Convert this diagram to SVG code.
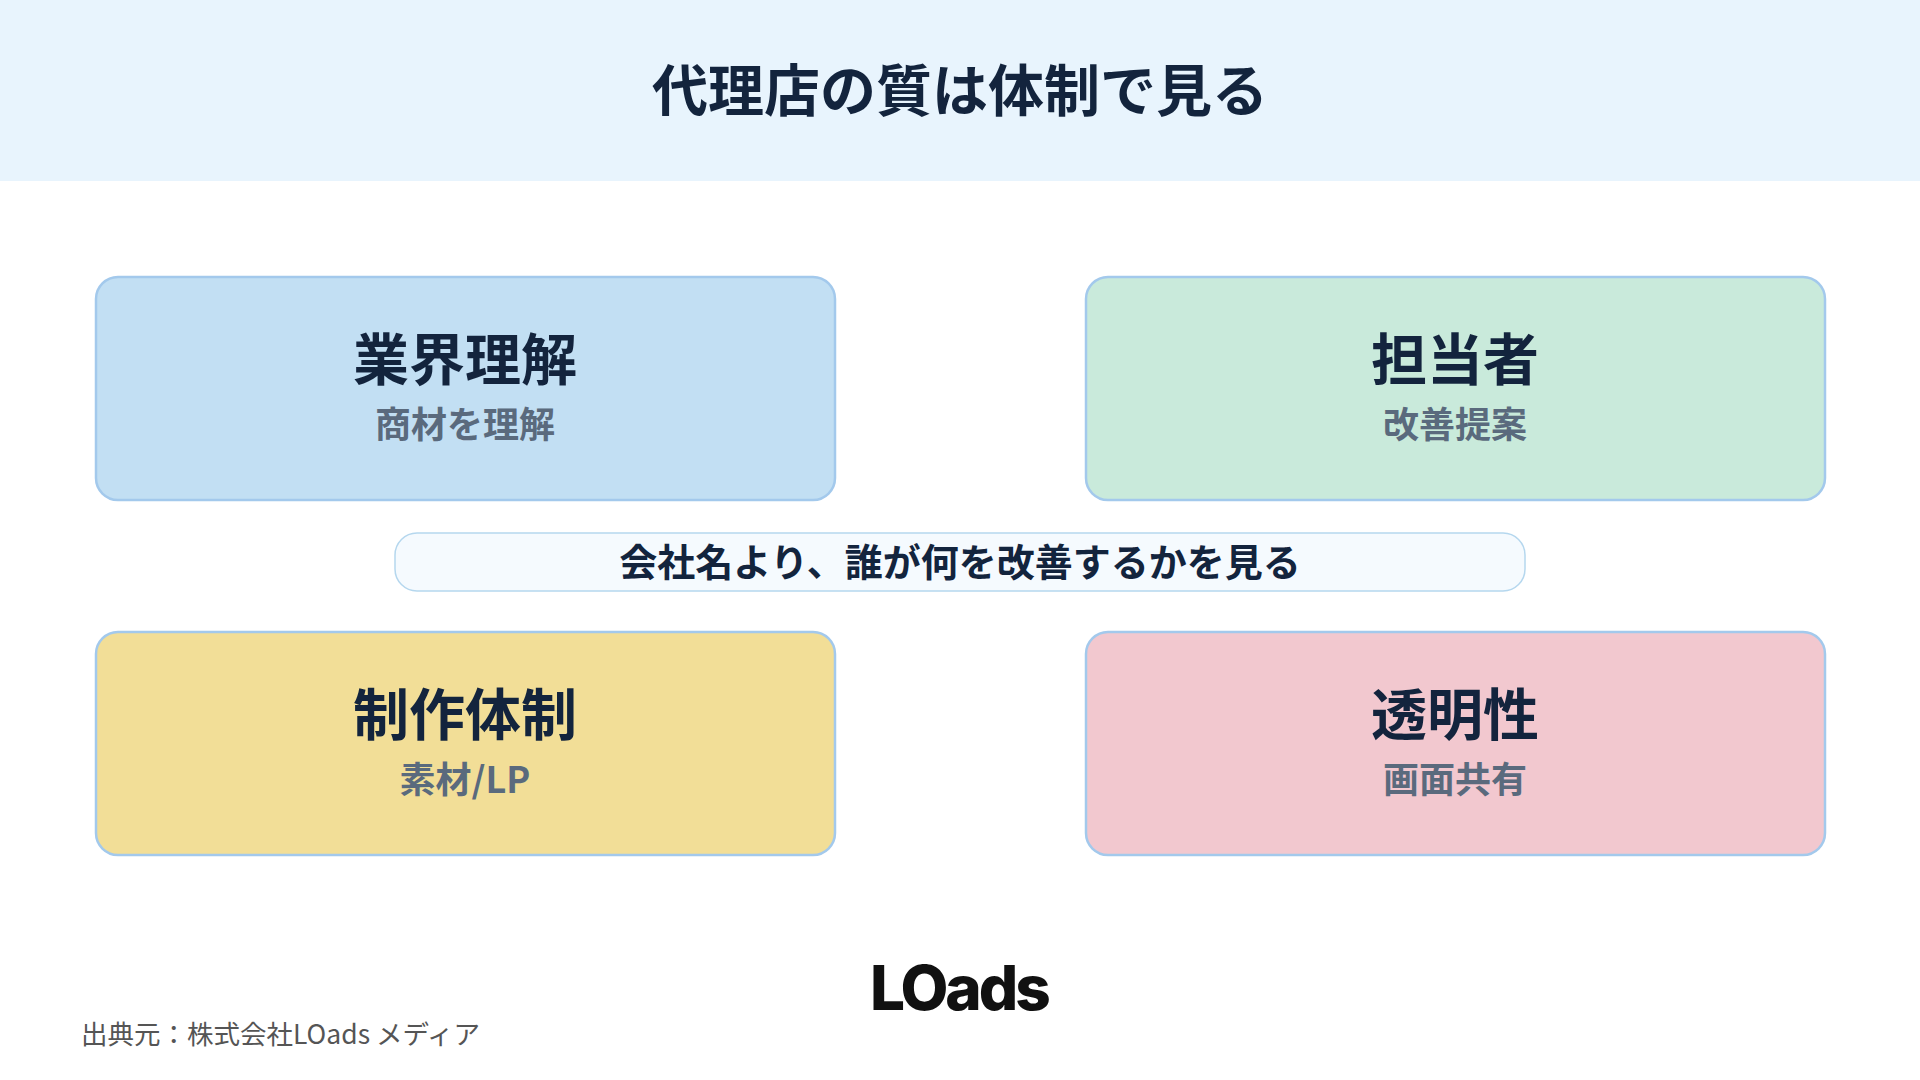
<svg xmlns="http://www.w3.org/2000/svg" width="1920" height="1080" viewBox="0 0 1920 1080">
<style>
.t{font-family:"Noto Sans CJK JP","Noto Sans",sans-serif;font-weight:700;text-anchor:middle;fill:#13243d}
.s{font-family:"Noto Sans CJK JP","Noto Sans",sans-serif;font-weight:700;text-anchor:middle;fill:#5a6a7d}
.box{stroke:#a3c9ec;stroke-width:2.5}
</style>
<rect width="1920" height="1080" fill="#fff"/>
<rect width="1920" height="181" fill="#e8f4fd"/>
<text class="t" x="960" y="111" font-size="56">代理店の質は体制で見る</text>
<g id="n1"><rect class="box" x="96" y="277" width="739" height="223" rx="22" fill="#c2dff3"/>
<text class="t" x="465" y="380" font-size="56">業界理解</text><text class="s" x="465" y="438" font-size="36">商材を理解</text></g>
<g id="n2"><rect class="box" x="1086" y="277" width="739" height="223" rx="22" fill="#c9eadb"/>
<text class="t" x="1455" y="380" font-size="56">担当者</text><text class="s" x="1455" y="438" font-size="36">改善提案</text></g>
<g id="n3"><rect class="box" x="96" y="632" width="739" height="223" rx="22" fill="#f2de97"/>
<text class="t" x="465" y="735" font-size="56">制作体制</text><text class="s" x="465" y="793" font-size="36">素材/LP</text></g>
<g id="n4"><rect class="box" x="1086" y="632" width="739" height="223" rx="22" fill="#f2c8cf"/>
<text class="t" x="1455" y="735" font-size="56">透明性</text><text class="s" x="1455" y="793" font-size="36">画面共有</text></g>
<g id="pill"><rect x="395" y="533" width="1130" height="58" rx="22" fill="#f5fafe" stroke="#b5d7ee" stroke-width="1.5"/>
<text class="t" x="960" y="576" font-size="38">会社名より、誰が何を改善するかを見る</text></g>
<g id="connectors"/>
<text x="959" y="1010" font-family="Inter,'Noto Sans',sans-serif" font-weight="800" font-size="62" text-anchor="middle" fill="#111" letter-spacing="-3">LOads</text>
<text x="81" y="1044" font-family="'Noto Sans CJK JP','Noto Sans',sans-serif" font-size="26.5" fill="#555">出典元：株式会社LOads メディア</text>
</svg>
